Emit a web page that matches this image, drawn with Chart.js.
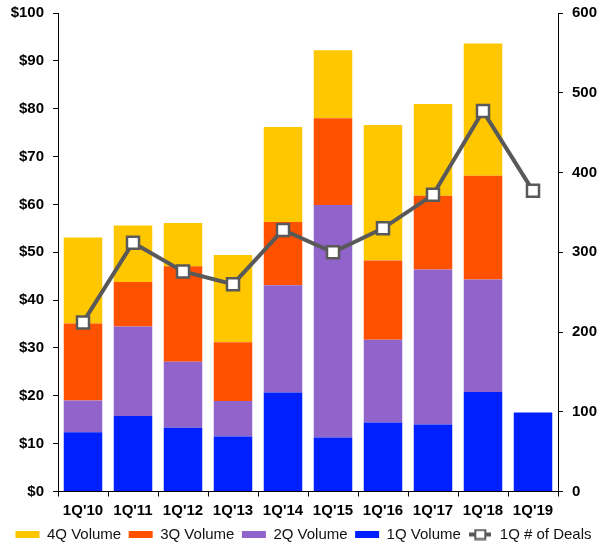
<!DOCTYPE html>
<html>
<head>
<meta charset="utf-8">
<script src="https://cdn.jsdelivr.net/npm/chart.js@4.4.1/dist/chart.umd.min.js"></script>
<style>
html,body{margin:0;padding:0;background:#fff;}
#c{display:block;}
</style>
</head>
<body>
<canvas id="c" width="597" height="544"></canvas>
<script>
const categories = ["1Q'10","1Q'11","1Q'12","1Q'13","1Q'14","1Q'15","1Q'16","1Q'17","1Q'18","1Q'19"];
const q1Volume = [12.4, 15.8, 13.3, 11.5, 20.7, 11.3, 14.4, 14.0, 20.8, 16.5];
const q2Volume = [6.6, 18.7, 13.8, 7.4, 22.4, 48.6, 17.3, 32.4, 23.5, null];
const q3Volume = [16.1, 9.3, 20.0, 12.3, 13.2, 18.1, 16.6, 15.4, 21.7, null];
const q4Volume = [18.0, 11.8, 9.0, 18.2, 19.9, 14.2, 28.3, 19.2, 27.6, null];
const q1Deals = [212, 312, 276, 260, 328, 300, 330, 372, 477, 377];
const leftTicks = {min: 0, max: 100, step: 10};
const rightTicks = {min: 0, max: 600, step: 100};

const GRAY = '#595959';
// legend icon for the line series
const icon = document.createElement('canvas');
icon.width = 22; icon.height = 12;
(function(){
  const g = icon.getContext('2d');
  g.strokeStyle = GRAY; g.lineWidth = 4;
  g.beginPath(); g.moveTo(0, 6); g.lineTo(22, 6); g.stroke();
  g.fillStyle = '#fff'; g.fillRect(6, 1.5, 10, 9);
  g.lineWidth = 2; g.strokeRect(6, 1.5, 10, 9);
})();

const tickFont = {family: "'Liberation Sans', Arial, sans-serif", size: 15, weight: 'bold'};
const order = {'4Q Volume':0,'3Q Volume':1,'2Q Volume':2,'1Q Volume':3,'1Q # of Deals':4};
const noPad = (s) => { s.paddingTop = 0; s.paddingBottom = 0; };

const shiftLegend = {
  id: 'shiftLegend',
  afterLayout(chart) {
    const l = chart.legend;
    if (l) { l.left += 5; l.right += 5; }
  }
};

new Chart(document.getElementById('c'), {
  type: 'bar',
  plugins: [shiftLegend],
  data: {
    labels: categories,
    datasets: [
      {label: '1Q Volume', data: q1Volume, backgroundColor: '#0020FF', yAxisID: 'y', order: 2, stack: 's'},
      {label: '2Q Volume', data: q2Volume, backgroundColor: '#9164CC', yAxisID: 'y', order: 2, stack: 's'},
      {label: '3Q Volume', data: q3Volume, backgroundColor: '#FF5100', yAxisID: 'y', order: 2, stack: 's'},
      {label: '4Q Volume', data: q4Volume, backgroundColor: '#FFC700', yAxisID: 'y', order: 2, stack: 's'},
      {type: 'line', label: '1Q # of Deals', data: q1Deals, yAxisID: 'y2', order: 0,
       borderColor: GRAY, borderWidth: 4, backgroundColor: '#fff',
       pointStyle: 'rect', pointRadius: 8.5, pointBorderWidth: 2.5, pointBorderColor: GRAY,
       pointBackgroundColor: '#fff', tension: 0}
    ]
  },
  options: {
    responsive: false,
    animation: false,
    devicePixelRatio: 1,
    datasets: {bar: {barPercentage: 0.77, categoryPercentage: 1.0}},
    layout: {padding: {top: 13, left: 0, right: 0, bottom: -8}},
    plugins: {
      tooltip: {enabled: false},
      legend: {
        position: 'bottom',
        labels: {
          usePointStyle: true,
          pointStyleWidth: 24,
          boxHeight: 7,
          padding: 7.5,
          color: '#111',
          font: {family: "'Liberation Sans', Arial, sans-serif", size: 15},
          sort: (a, b) => order[a.text] - order[b.text],
          generateLabels: (chart) => {
            const items = Chart.defaults.plugins.legend.labels.generateLabels(chart);
            items.forEach(it => {
              if (it.text === '1Q # of Deals') {
                it.pointStyle = icon;
              } else {
                it.pointStyle = 'rect';
                it.lineWidth = 0;
                it.strokeStyle = 'transparent';
              }
            });
            return items;
          }
        }
      }
    },
    scales: {
      x: {
        stacked: true,
        grid: {display: true, drawOnChartArea: false, offset: true, tickLength: 5, color: '#000', tickColor: '#000'},
        border: {display: true, color: '#000', width: 1},
        ticks: {color: '#000', font: tickFont, padding: 5.5, maxRotation: 0, autoSkip: false},
        afterFit: (s) => { s.height = 28; }
      },
      y: {
        stacked: true,
        position: 'left',
        min: leftTicks.min, max: leftTicks.max,
        grid: {drawOnChartArea: false, tickLength: 5, color: '#000', tickColor: '#000'},
        border: {display: true, color: '#000', width: 1},
        ticks: {stepSize: leftTicks.step, color: '#000', font: tickFont, padding: 9,
                callback: v => '$' + v},
        afterFit: (s) => { s.width = 58; noPad(s); }
      },
      y2: {
        position: 'right',
        min: rightTicks.min, max: rightTicks.max,
        grid: {drawOnChartArea: false, tickLength: 5, color: '#000', tickColor: '#000'},
        border: {display: true, color: '#000', width: 1},
        ticks: {stepSize: rightTicks.step, color: '#000', font: tickFont, padding: 9},
        afterFit: (s) => { s.width = 39; noPad(s); }
      }
    }
  }
});
</script>
</body>
</html>
